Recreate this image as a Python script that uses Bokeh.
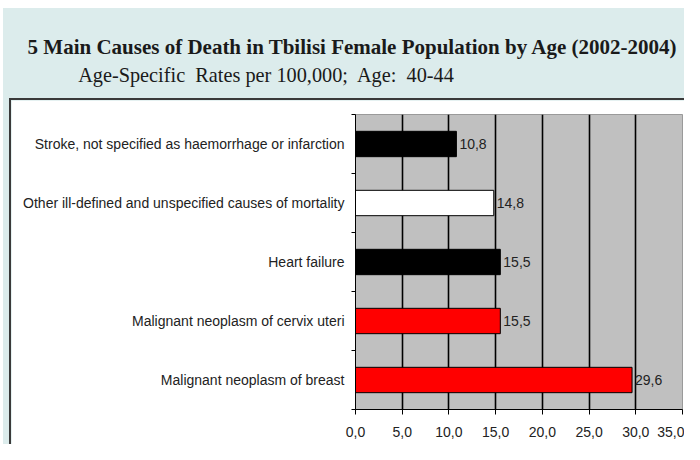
from bokeh.plotting import figure
from bokeh.layouts import column
from bokeh.models import Range1d, FixedTicker, CustomJSTickFormatter, ColumnDataSource, Div
from bokeh.embed import file_html
from bokeh.resources import INLINE
from bokeh.core.properties import value

# ---- data (top to bottom) ----
causes = [
    "Stroke, not specified as haemorrhage or infarction",
    "Other ill-defined and unspecified causes of mortality",
    "Heart failure",
    "Malignant neoplasm of cervix uteri",
    "Malignant neoplasm of breast",
]
rates = [10.8, 14.8, 15.5, 15.5, 29.6]
bar_colors = ["#000000", "#ffffff", "#000000", "#ff0000", "#ff0000"]
x_ticks = [0, 5, 10, 15, 20, 25, 30, 35]
title_1 = "5 Main Causes of Death in Tbilisi Female Population by Age (2002-2004)"
title_2 = "Age-Specific&nbsp; Rates per 100,000;&nbsp; Age:&nbsp; 40-44"

positions = [i + 0.5 for i in range(len(causes))]
boundaries = list(range(len(causes) + 1))
rate_labels = [f"{v:.1f}".replace(".", ",") for v in rates]

SANS = "Liberation Sans"
BLUE = "#dcecec"
W = 684
MAIN_H = 346

# ---- header ----
header_html = (
    '<div style="position:relative;width:681px;height:90px;">'
    '<div style="position:absolute;left:349px;top:39px;transform:translate(-50%,-50%);'
    "white-space:nowrap;font-family:'Liberation Serif';font-weight:bold;font-size:21px;"
    f'color:#1a1a1a;">{title_1}</div>'
    '<div style="position:absolute;left:263px;top:67px;transform:translate(-50%,-50%);'
    "white-space:nowrap;font-family:'Liberation Serif';font-size:20.3px;"
    f'color:#1a1a1a;">{title_2}</div>'
    '</div>'
)
head = Div(text=header_html, width=W - 3, height=90, margin=(8, 0, 0, 3),
           styles={"background-color": BLUE})

# ---- main chart ----
src = ColumnDataSource(dict(y=positions, right=rates, color=bar_colors, label=rate_labels))

p = figure(width=W - 9, height=MAIN_H, output_backend="svg", toolbar_location=None,
           x_range=Range1d(0, 35), y_range=Range1d(len(causes), 0),
           min_border_left=344, min_border_right=4, min_border_top=14, min_border_bottom=37,
           margin=(0, 0, 0, 6))
p.styles = {"border-left": "2px solid #3a3a3a", "border-top": "2px solid #3a3a3a",
            "box-sizing": "border-box"}
p.border_fill_color = "#ffffff"
p.background_fill_color = "#c0c0c0"
p.outline_line_color = "#9a9a9a"

p.ygrid.grid_line_color = None
p.xgrid.ticker = FixedTicker(ticks=x_ticks)
p.xgrid.grid_line_color = "#000000"
p.xgrid.grid_line_width = 1.6

p.hbar(y="y", left=0, right="right", height=0.43, fill_color="color",
       line_color="#000000", line_width=1, source=src)
p.text(x="right", y="y", text="label", x_offset=3, text_align="left",
       text_baseline="middle", text_font=value(SANS),
       text_font_size="14px", text_color="#222222", source=src)

xa = p.xaxis[0]
xa.ticker = FixedTicker(ticks=x_ticks)
xa.formatter = CustomJSTickFormatter(code="return tick.toFixed(1).replace('.', ',');")
xa.axis_line_color = "#000000"
xa.major_tick_in = 0
xa.major_tick_out = 5
xa.major_tick_line_color = "#000000"
xa.minor_tick_line_color = None
xa.major_label_text_font = SANS
xa.major_label_text_font_size = "14px"
xa.major_label_text_color = "#222222"
xa.major_label_standoff = 12

ya = p.yaxis[0]
ya.ticker = FixedTicker(ticks=positions, minor_ticks=boundaries)
ya.major_label_overrides = {pos: name for pos, name in zip(positions, causes)}
ya.axis_line_color = "#000000"
ya.major_tick_in = 0
ya.major_tick_out = 0
ya.minor_tick_in = 0
ya.minor_tick_out = 4
ya.minor_tick_line_color = "#000000"
ya.major_label_text_font = SANS
ya.major_label_text_font_size = "14px"
ya.major_label_text_color = "#222222"
ya.major_label_standoff = 7

body = column(p, spacing=0, margin=(0, 0, 0, 3))
body.styles = {"background-color": BLUE}

layout = column(head, body, spacing=0)
layout.styles = {"background-color": "#ffffff"}

open("out.html", "w").write(file_html(layout, INLINE))
